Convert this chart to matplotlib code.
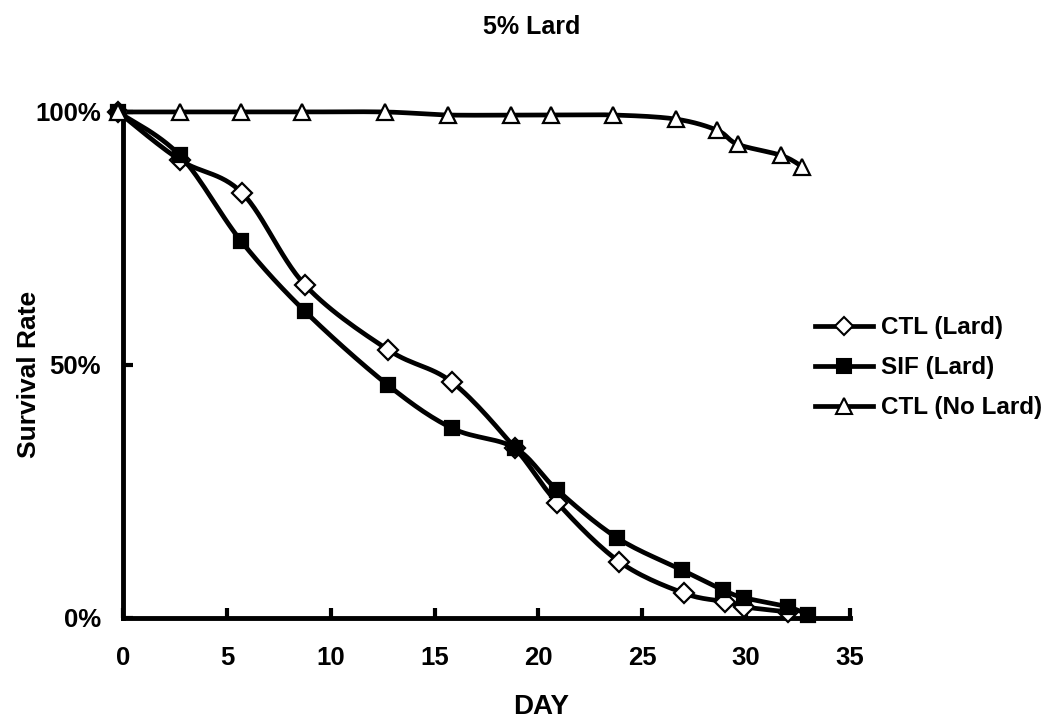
import numpy as np
import matplotlib.pyplot as plt

plt.rcParams['font.family'] = ['Liberation Sans', 'DejaVu Sans']
plt.rcParams['font.weight'] = 'bold'

#%% DATA
day_ctl = [-0.24, 2.74, 5.73, 8.76, 12.76, 15.84, 18.87, 20.9, 23.9, 27.0, 29.0, 29.9, 32.0]
surv_ctl = [100, 90.5, 84.0, 65.8, 53.0, 46.6, 33.6, 22.8, 11.1, 4.9, 3.2, 2.2, 1.2]

day_sif = [-0.24, 2.74, 5.68, 8.76, 12.76, 15.84, 18.87, 20.9, 23.8, 26.9, 28.9, 29.9, 32.0, 33.0]
surv_sif = [100, 91.4, 74.5, 60.6, 46.0, 37.5, 33.6, 25.3, 15.8, 9.5, 5.5, 4.0, 2.2, 0.6]

day_nolard = [-0.24, 2.74, 5.68, 8.62, 12.6, 15.65, 18.7, 20.6, 23.6, 26.6, 28.6, 29.6, 31.7, 32.7]
surv_nolard = [100, 100, 100, 100, 100, 99.4, 99.4, 99.4, 99.4, 98.6, 96.4, 93.6, 91.4, 89.2]

labels = ['CTL (Lard)', 'SIF (Lard)', 'CTL (No Lard)']
xticks = [0, 5, 10, 15, 20, 25, 30, 35]
yticks = [0, 50, 100]
yticklabels = ['0%', '50%', '100%']


def smooth(x, y, n=16):
    # catmull-rom, like excel "smoothed line"
    x = np.asarray(x, float)
    y = np.asarray(y, float)
    px = np.concatenate([[x[0]], x, [x[-1]]])
    py = np.concatenate([[y[0]], y, [y[-1]]])
    t = np.linspace(0, 1, n)[:, None]
    xs, ys = [], []
    for i in range(1, len(px) - 2):
        for p, out in ((px, xs), (py, ys)):
            p0, p1, p2, p3 = p[i-1], p[i], p[i+1], p[i+2]
            seg = 0.5*((2*p1) + (-p0+p2)*t + (2*p0-5*p1+4*p2-p3)*t**2 + (-p0+3*p1-3*p2+p3)*t**3)
            out.append(seg.ravel())
    return np.concatenate(xs), np.concatenate(ys)


#%% PLOT
fig = plt.figure(figsize=(10.49, 7.21), dpi=100)
ax = fig.add_axes([0.1173, 0.1429, 0.693, 0.7018])

lw = 3.4
# (days, values, marker, face, size, line zorder, marker zorder)
series = [
    (day_nolard, surv_nolard, '^', 'white', 12, 3, 8),
    (day_ctl, surv_ctl, 'D', 'white', 10, 4, 4.5),
    (day_sif, surv_sif, 's', 'black', 10, 5, 5.5),
]
for (dx, dy, mk, fc, ms, z, zm) in series:
    sx, sy = smooth(dx, dy)
    ax.plot(sx, sy, color='black', lw=lw, zorder=z, clip_on=False, solid_capstyle='round')
    ax.plot(dx, dy, ls='none', marker=mk, mfc=fc, mec='black', mew=1.6, ms=ms,
            zorder=zm, clip_on=False)

h_ctl, = ax.plot([], [], color='black', lw=lw, marker='D', mfc='white', mec='black', mew=1.5, ms=9)
h_sif, = ax.plot([], [], color='black', lw=lw, marker='s', mfc='black', mec='black', mew=1.5, ms=10)
h_no, = ax.plot([], [], color='black', lw=lw, marker='^', mfc='white', mec='black', mew=1.5, ms=12)

ax.set_xlim(0, 35)
ax.set_ylim(0, 100)
ax.set_xticks(xticks)
ax.set_yticks(yticks)
ax.set_yticklabels(yticklabels)
ax.tick_params(axis='x', direction='in', length=7, width=3, pad=20, labelsize=18.5)
ax.tick_params(axis='y', direction='in', length=7, width=3, pad=16, labelsize=18.5)
for lab in ax.get_xticklabels() + ax.get_yticklabels():
    lab.set_fontweight('bold')
for s in ['top', 'right']:
    ax.spines[s].set_visible(False)
for s in ['left', 'bottom']:
    ax.spines[s].set_linewidth(3.5)

fig.text(0.507, 0.963, '5% Lard', ha='center', va='center', fontsize=18, fontweight='bold')
fig.text(0.516, 0.02, 'DAY', ha='center', va='center', fontsize=20, fontweight='bold')
fig.text(0.028, 0.48, 'Survival Rate', ha='center', va='center', rotation=90, fontsize=19, fontweight='bold')

fig.legend([h_ctl, h_sif, h_no], labels, loc='center left', bbox_to_anchor=(0.756, 0.49),
           frameon=False, handlelength=2.4, handletextpad=0.3, labelspacing=0.7,
           prop={'size': 17.5, 'weight': 'bold'})

plt.savefig('out.png', dpi=100)
